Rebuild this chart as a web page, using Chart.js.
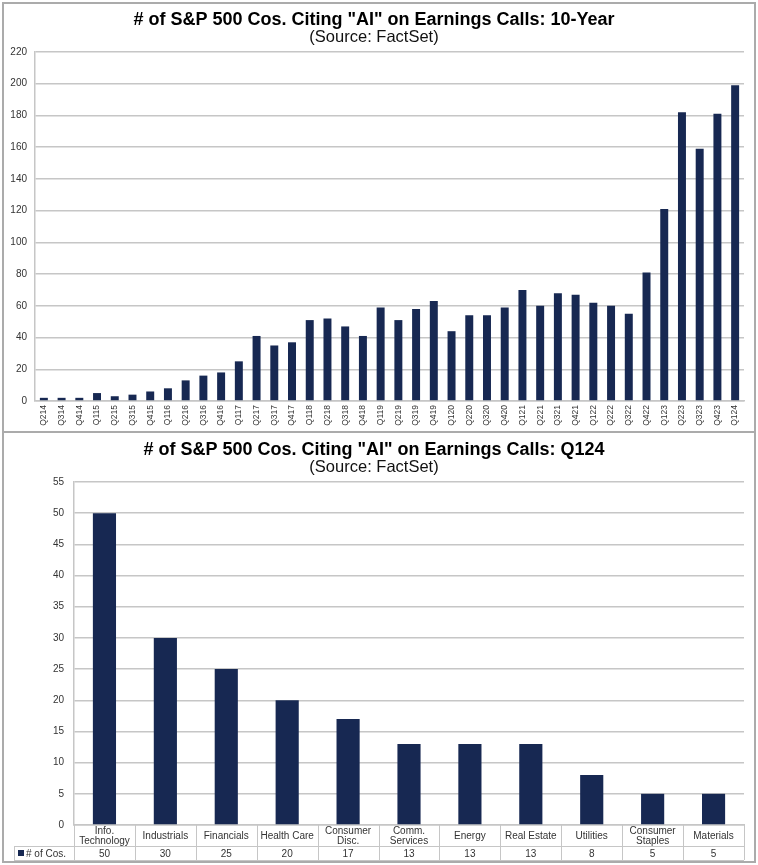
<!DOCTYPE html>
<html>
<head>
<meta charset="utf-8">
<script src="https://cdn.jsdelivr.net/npm/chart.js@4"></script>
<style>
  body { margin: 0; background: #fff; }
  .frame { position: absolute; left: 2px; top: 2px; width: 750px; height: 857px; border: 2px solid #ababab; }
  .sep { position: absolute; left: 2px; top: 431px; width: 754px; height: 2px; background: #ababab; }
  canvas { position: absolute; }
  #quarterly { left: 4px; top: 4px; }
  #sectors { left: 4px; top: 434px; }
</style>
</head>
<body>
<div class="frame"></div>
<div class="sep"></div>
<canvas id="quarterly" width="750" height="426"></canvas>
<canvas id="sectors" width="750" height="428"></canvas>
<script>
// quarterly counts, Q2 2014 .. Q1 2024
const quarters = ['Q214', 'Q314', 'Q414', 'Q115', 'Q215', 'Q315', 'Q415', 'Q116', 'Q216', 'Q316',
  'Q416', 'Q117', 'Q217', 'Q317', 'Q417', 'Q118', 'Q218', 'Q318', 'Q418', 'Q119',
  'Q219', 'Q319', 'Q419', 'Q120', 'Q220', 'Q320', 'Q420', 'Q121', 'Q221', 'Q321',
  'Q421', 'Q122', 'Q222', 'Q322', 'Q422', 'Q123', 'Q223', 'Q323', 'Q423', 'Q124'];
const aiMentions = [2, 2, 2, 5, 3, 4, 6, 8, 13, 16,
  18, 25, 41, 35, 37, 51, 52, 47, 41, 59,
  51, 58, 63, 44, 54, 54, 59, 70, 60, 68,
  67, 62, 60, 55, 81, 121, 182, 159, 181, 199];

// Q124 by sector
const sectors = [['Info.', 'Technology'], 'Industrials', 'Financials', 'Health Care', ['Consumer', 'Disc.'],
  ['Comm.', 'Services'], 'Energy', 'Real Estate', 'Utilities', ['Consumer', 'Staples'], 'Materials'];
const sectorCounts = [50, 30, 25, 20, 17, 13, 13, 13, 8, 5, 5];
const seriesName = '# of Cos.';

const FONT = "'Liberation Sans', Arial, sans-serif";
const NAVY = '#172852';
const GRID = '#c6c6c6';
const TEXT = '#333333';

function titles(main) {
  return {
    title: {
      display: true, text: main, color: '#000',
      font: { family: FONT, size: 18, weight: 'bold', lineHeight: 1 },
      padding: { top: 7, bottom: 0 }
    },
    subtitle: {
      display: true, text: '(Source: FactSet)', color: '#111',
      font: { family: FONT, size: 16.5, lineHeight: 1 },
      padding: { top: 0, bottom: 6.5 }
    },
    legend: { display: false },
    tooltip: { enabled: false }
  };
}

new Chart(document.getElementById('quarterly'), {
  type: 'bar',
  data: {
    labels: quarters,
    datasets: [{ data: aiMentions, backgroundColor: NAVY, barPercentage: 0.45, categoryPercentage: 1 }]
  },
  options: {
    responsive: false,
    animation: false,
    layout: { padding: { left: 0, right: 10, top: 0, bottom: 0 } },
    plugins: titles('# of S&P 500 Cos. Citing "AI" on Earnings Calls: 10-Year'),
    scales: {
      x: {
        grid: { display: false, drawTicks: false, tickLength: 0 },
        border: { display: true, color: GRID, width: 1.5 },
        ticks: { autoSkip: false, minRotation: 90, maxRotation: 90, padding: 4, color: TEXT, font: { family: FONT, size: 8.5 } },
        afterFit: (s) => { s.height = 29; }
      },
      y: {
        min: 0, max: 220,
        ticks: { stepSize: 20, padding: 8, color: TEXT, font: { family: FONT, size: 10 } },
        grid: { color: GRID, lineWidth: 1.5, drawTicks: false },
        border: { display: true, color: GRID, width: 1.5 },
        afterFit: (s) => { s.width = 31; }
      }
    }
  }
});

// data table under the sector chart, laid out on the category scale
const dataTable = {
  id: 'dataTable',
  afterDraw(chart) {
    const { ctx, chartArea, scales: { x } } = chart;
    const n = sectors.length;
    const w = (x.right - x.left) / n;
    const top = chartArea.bottom;
    const row1 = top + 21;
    const row2 = row1 + 14;
    const legLeft = 10;
    ctx.save();
    ctx.strokeStyle = GRID;
    ctx.lineWidth = 1;
    ctx.beginPath();
    for (let i = 0; i <= n; i++) {
      const px = Math.round(x.left + i * w) + 0.5;
      ctx.moveTo(px, top); ctx.lineTo(px, row2);
    }
    ctx.moveTo(legLeft + 0.5, row1); ctx.lineTo(legLeft + 0.5, row2);
    ctx.moveTo(legLeft, row1 + 0.5); ctx.lineTo(x.right, row1 + 0.5);
    ctx.moveTo(legLeft, row2 + 0.5); ctx.lineTo(x.right, row2 + 0.5);
    ctx.stroke();

    ctx.fillStyle = TEXT;
    ctx.font = '10px ' + FONT;
    ctx.textAlign = 'center';
    ctx.textBaseline = 'middle';
    sectors.forEach((lab, i) => {
      const cx = x.getPixelForValue(i);
      if (Array.isArray(lab)) {
        ctx.fillText(lab[0], cx, top + 6);
        ctx.fillText(lab[1], cx, top + 16);
      } else {
        ctx.fillText(lab, cx, top + 11);
      }
      ctx.fillText(String(sectorCounts[i]), cx, (row1 + row2) / 2 + 1);
    });
    ctx.fillStyle = NAVY;
    ctx.fillRect(legLeft + 4, row1 + 4, 6, 6);
    ctx.fillStyle = TEXT;
    ctx.textAlign = 'left';
    ctx.fillText(seriesName, legLeft + 12, (row1 + row2) / 2 + 1);
    ctx.restore();
  }
};

new Chart(document.getElementById('sectors'), {
  type: 'bar',
  data: {
    labels: sectors,
    datasets: [{ label: seriesName, data: sectorCounts, backgroundColor: NAVY, barPercentage: 0.38, categoryPercentage: 1 }]
  },
  options: {
    responsive: false,
    animation: false,
    layout: { padding: { left: 0, right: 10, top: 0, bottom: 0 } },
    plugins: titles('# of S&P 500 Cos. Citing "AI" on Earnings Calls: Q124'),
    scales: {
      x: {
        grid: { display: false, drawTicks: false, tickLength: 0 },
        border: { display: true, color: GRID, width: 1.5 },
        ticks: { display: false },
        afterFit: (s) => { s.height = 37; }
      },
      y: {
        min: 0, max: 55,
        ticks: { stepSize: 5, padding: 10, color: TEXT, font: { family: FONT, size: 10 } },
        grid: { color: GRID, lineWidth: 1.5, drawTicks: false },
        border: { display: true, color: GRID, width: 1.5 },
        afterFit: (s) => { s.width = 70; }
      }
    }
  },
  plugins: [dataTable]
});
</script>
</body>
</html>
